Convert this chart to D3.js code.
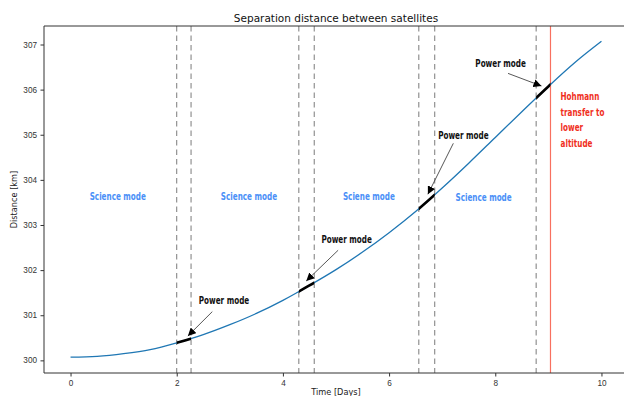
<!DOCTYPE html>
<html>
<head>
<meta charset="utf-8">
<script src="https://cdn.jsdelivr.net/npm/d3@7"></script>
<style>
  body { margin: 0; background: #fff; }
  svg { display: block; font-family: "DejaVu Sans", sans-serif; }
  .axis text { font-size: 8.2px; fill: #333; }
  .axis path, .axis line { stroke: #333; }
  .note { font-family: "DejaVu Sans Condensed", "DejaVu Sans", sans-serif; font-stretch: condensed; font-weight: bold; font-size: 11px; }
</style>
</head>
<body>
<div id="chart"></div>
<script>
// 曲线数据
const days     = [0, 0.5, 1, 1.5, 2, 2.5, 3, 3.5, 4, 4.5, 5, 5.5, 6, 6.5, 7, 7.5, 8, 8.5, 9, 9.5, 10];
const distance = [300.07, 300.09, 300.15, 300.24, 300.39, 300.57, 300.79, 301.04, 301.33, 301.66,
                  302.01, 302.40, 302.83, 303.30, 303.82, 304.37, 304.94, 305.51, 306.07, 306.60, 307.07];

// Power mode 区间
const powerStart = [2.0, 4.3, 6.56, 8.77];
const powerEnd   = [2.27, 4.59, 6.86, 9.04];
const dashedAt   = [2.0, 2.27, 4.3, 4.59, 6.56, 6.86, 8.77];
const hohmannAt  = 9.04;

// 注释（数据坐标）
const pmTextX = [2.89, 5.20, 7.40, 8.10];
const pmTextY = [301.34, 302.69, 304.99, 306.60];
const pmTailX = [2.67, 5.04, 7.21, 8.24];
const pmTailY = [301.08, 302.44, 304.81, 306.36];
const pmTipX  = [2.21, 4.44, 6.73, 8.87];
const pmTipY  = [300.54, 301.76, 303.68, 306.08];

const sciLabels = ['Science mode', 'Science mode', 'Sciene mode', 'Science mode'];
const sciX = [0.36, 2.83, 5.13, 7.25];
const sciY = [303.65, 303.64, 303.65, 303.61];

const hohmannLines = ['Hohmann', 'transfer to', 'lower', 'altitude'];
const hohmannX = 9.23, hohmannY = 305.86;

const xTicks = [0, 2, 4, 6, 8, 10];
const yTicks = [300, 301, 302, 303, 304, 305, 306, 307];

const W = 624, H = 396;
const margin = { top: 26, left: 44, right: -4, bottom: 23 };   // 右侧被裁掉一点

const svg = d3.select('#chart').append('svg')
  .attr('width', W).attr('height', H);

const x = d3.scaleLinear().domain([-0.5, 10.5]).range([margin.left, W - margin.right]);
const y = d3.scaleLinear().domain([299.72, 307.41]).range([H - margin.bottom, margin.top]);

// 虚线
svg.selectAll('.vdash')
  .data(dashedAt)
  .enter().append('line')
  .attr('x1', d => x(d)).attr('x2', d => x(d))
  .attr('y1', margin.top).attr('y2', H - margin.bottom)
  .attr('stroke', '#7a7a7a')
  .attr('stroke-width', 1)
  .attr('stroke-dasharray', '5.5 4');

// 红线
svg.append('line')
  .attr('x1', x(hohmannAt)).attr('x2', x(hohmannAt))
  .attr('y1', margin.top).attr('y2', H - margin.bottom)
  .attr('stroke', '#f8705f')
  .attr('stroke-width', 1.2);

const pts = days.map((d, i) => [d, distance[i]]);
const line = d3.line().x(d => x(d[0])).y(d => y(d[1])).curve(d3.curveMonotoneX);

svg.append('path')
  .attr('d', line(pts))
  .attr('fill', 'none')
  .attr('stroke', '#1f77b4')
  .attr('stroke-width', 1.3);

// 黑色加粗段：用 clipPath 截取
const defs = svg.append('defs');
powerStart.forEach((s, i) => {
  defs.append('clipPath').attr('id', 'pm' + i)
    .append('rect')
    .attr('x', x(s)).attr('width', x(powerEnd[i]) - x(s))
    .attr('y', 0).attr('height', H);
  svg.append('path')
    .attr('d', line(pts))
    .attr('clip-path', `url(#pm${i})`)
    .attr('fill', 'none')
    .attr('stroke', '#000')
    .attr('stroke-width', 2.6);
});

// 坐标轴
svg.append('g').attr('class', 'axis')
  .attr('transform', `translate(0,${H - margin.bottom})`)
  .call(d3.axisBottom(x).tickValues(xTicks).tickSize(3.5).tickPadding(3.5))
  .call(g => g.select('.domain').attr('d', `M${margin.left},0H${W + 10}`));

svg.append('g').attr('class', 'axis')
  .attr('transform', `translate(${margin.left},0)`)
  .call(d3.axisLeft(y).tickValues(yTicks).tickSize(3.5).tickPadding(3.5))
  .call(g => g.select('.domain').attr('d', `M0,${H - margin.bottom}V${margin.top}`));

// 顶部边框
svg.append('line')
  .attr('x1', margin.left).attr('x2', W)
  .attr('y1', margin.top).attr('y2', margin.top)
  .attr('stroke', '#333');

// 标题与坐标轴名
svg.append('text')
  .attr('x', (margin.left + W - margin.right) / 2).attr('y', 17.5)
  .attr('text-anchor', 'middle').attr('dominant-baseline', 'central')
  .style('font-size', '10.5px').style('fill', '#111')
  .text('Separation distance between satellites');

svg.append('text')
  .attr('x', (margin.left + W - margin.right) / 2).attr('y', 392)
  .attr('text-anchor', 'middle').attr('dominant-baseline', 'central')
  .style('font-size', '8.2px').style('fill', '#222')
  .text('Time [Days]');

svg.append('text')
  .attr('transform', `translate(14,${(margin.top + H - margin.bottom) / 2}) rotate(-90)`)
  .attr('text-anchor', 'middle').attr('dominant-baseline', 'central')
  .style('font-size', '8.2px').style('fill', '#222')
  .text('Distance [km]');

// 箭头
defs.append('marker')
  .attr('id', 'head')
  .attr('viewBox', '0 0 10 10')
  .attr('refX', 10).attr('refY', 5)
  .attr('markerUnits', 'userSpaceOnUse')
  .attr('markerWidth', 8).attr('markerHeight', 8)
  .attr('orient', 'auto')
  .append('path').attr('d', 'M0,0L10,5L0,10Z').attr('fill', '#000');

pmTextX.forEach((tx, i) => {
  svg.append('line')
    .attr('x1', x(pmTailX[i])).attr('y1', y(pmTailY[i]))
    .attr('x2', x(pmTipX[i])).attr('y2', y(pmTipY[i]))
    .attr('stroke', '#444').attr('stroke-width', 0.9)
    .attr('marker-end', 'url(#head)');
  svg.append('text')
    .attr('class', 'note')
    .attr('transform', `translate(${x(tx)},${y(pmTextY[i])}) scale(0.73,1)`)
    .attr('text-anchor', 'middle').attr('dominant-baseline', 'central')
    .style('fill', '#111')
    .text('Power mode');
});

// Science mode
sciLabels.forEach((t, i) => {
  svg.append('text')
    .attr('class', 'note')
    .attr('transform', `translate(${x(sciX[i])},${y(sciY[i])}) scale(0.73,1)`)
    .attr('dominant-baseline', 'central')
    .style('fill', '#4a8ff7')
    .text(t);
});

// Hohmann
hohmannLines.forEach((t, i) => {
  svg.append('text')
    .attr('class', 'note')
    .attr('transform', `translate(${x(hohmannX)},${y(hohmannY) + i * 15.7}) scale(0.73,1)`)
    .attr('dominant-baseline', 'central')
    .style('fill', '#f0301e')
    .text(t);
});
</script>
</body>
</html>
